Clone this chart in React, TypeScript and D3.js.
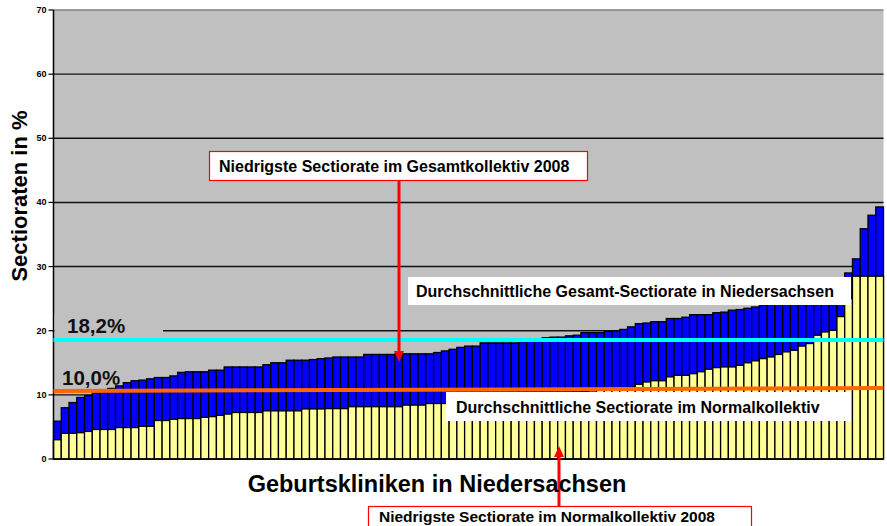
import React from 'react';
import * as d3 from 'd3';

// Sectiorate per Geburtsklinik (Gesamtkollektiv), aufsteigend sortiert
const gesamtRate = [
  5.9, 8.0, 8.8, 9.6, 9.9, 10.3, 10.7, 11.0, 11.4, 11.9,
  12.2, 12.3, 12.5, 12.7, 12.7, 12.95, 13.5, 13.6, 13.6, 13.6,
  13.85, 13.85, 14.35, 14.35, 14.35, 14.35, 14.35, 14.7, 15.0, 15.0,
  15.4, 15.4, 15.4, 15.5, 15.65, 15.75, 15.9, 15.9, 15.9, 15.9,
  16.3, 16.3, 16.3, 16.3, 16.4, 16.4, 16.4, 16.4, 16.4, 16.6,
  16.85, 17.1, 17.4, 17.6, 17.6, 18.1, 18.1, 18.1, 18.1, 18.1,
  18.3, 18.4, 18.5, 18.9, 19.0, 19.0, 19.2, 19.3, 19.7, 19.7,
  19.7, 19.9, 20.0, 20.2, 20.6, 21.1, 21.2, 21.4, 21.4, 21.9,
  21.9, 22.1, 22.5, 22.5, 22.5, 22.8, 22.9, 23.2, 23.3, 23.5,
  23.7, 24.0, 24.2, 24.4, 24.7, 25.0, 25.3, 25.7, 26.1, 26.6,
  27.2, 27.9, 29.0, 31.2, 35.9, 38.0, 39.3,
];

// Sectiorate im Normalkollektiv, gleiche Kliniken
const normalRate = [
  3.0, 4.0, 4.0, 4.1, 4.3, 4.6, 4.6, 4.6, 4.9, 4.9,
  4.9, 5.1, 5.1, 6.0, 6.0, 6.2, 6.3, 6.3, 6.3, 6.5,
  6.6, 6.8, 7.0, 7.25, 7.25, 7.25, 7.25, 7.5, 7.5, 7.5,
  7.5, 7.5, 7.8, 7.8, 7.8, 7.85, 7.85, 7.85, 8.15, 8.15,
  8.15, 8.15, 8.15, 8.15, 8.15, 8.4, 8.4, 8.4, 8.65, 8.65,
  8.65, 8.8, 8.9, 9.0, 9.1, 9.2, 9.3, 9.4, 9.5, 9.6,
  9.7, 9.8, 9.9, 10.0, 10.1, 10.2, 10.3, 10.4, 10.5, 10.6,
  10.7, 10.8, 10.9, 11.0, 11.2, 11.65, 12.0, 12.2, 12.2, 12.8,
  13.05, 13.05, 13.3, 13.6, 14.0, 14.25, 14.35, 14.35, 14.6, 15.0,
  15.3, 15.65, 15.9, 16.3, 16.7, 16.95, 17.6, 18.0, 19.3, 19.8,
  20.05, 22.2, 25.0, 28.5, 28.5, 28.5, 28.5,
];

const yTicks = [0, 10, 20, 30, 40, 50, 60, 70];

const gesamtMittel = 18.55; // cyan line
const normalMittel = [10.6, 11.05]; // orange line, left/right end

const font = '"Liberation Sans", Arial, sans-serif';

const width = 887;
const height = 526;
const left = 53.5;
const right = 883.5;
const top = 10;
const bottom = 459;

export default function App() {
  const clinics = d3.range(gesamtRate.length);
  const x = d3.scaleBand<number>().domain(clinics).range([left, right]).padding(0);
  const y = d3.scaleLinear().domain([0, 70]).range([bottom, top]);

  const arrowHead = (cx: number, tip: number, dir: number) =>
    `M${cx},${tip} L${cx - 5},${tip - dir * 11} L${cx + 5},${tip - dir * 11} Z`;

  return (
    <svg width={width} height={height} style={{ position: 'absolute', left: 0, top: 0, background: '#fff' }}>
      <rect x={left} y={top} width={right - left} height={bottom - top} fill="#c0c0c0" />
      {yTicks.filter(t => t > 0).map(t => (
        <line key={t} x1={left} x2={right} y1={y(t)} y2={y(t)}
          stroke={t === 70 ? '#808080' : '#111'} strokeWidth={1.4} />
      ))}

      {clinics.map(i => (
        <rect key={'g' + i} x={x(i)} y={y(gesamtRate[i])} width={x.bandwidth()}
          height={y(0) - y(gesamtRate[i])} fill="#0000ff" stroke="#000" strokeWidth={1.3} />
      ))}
      {clinics.map(i => (
        <rect key={'n' + i} x={x(i)} y={y(normalRate[i])} width={x.bandwidth()}
          height={y(0) - y(normalRate[i])} fill="#ffff99" stroke="#000" strokeWidth={1.3} />
      ))}

      <line x1={left} x2={left} y1={top} y2={bottom} stroke="#000" strokeWidth={1.5} />
      <line x1={left} x2={right} y1={bottom} y2={bottom} stroke="#000" strokeWidth={1.5} />
      {yTicks.map(t => (
        <g key={t}>
          <line x1={left - 5} x2={left} y1={y(t)} y2={y(t)} stroke="#000" strokeWidth={1.2} />
          <text x={left - 7} y={y(t) + 3} textAnchor="end" fontFamily={font} fontWeight="bold"
            fontSize={9} fill="#000">{t}</text>
        </g>
      ))}

      {/* label backgrounds and mean lines */}
      <rect x={left + 1} y={315} width={163 - left - 1} height={22} fill="#c0c0c0" />
      <text x={67} y={333} fontFamily={font} fontWeight="bold" fontSize={20.5} fill="#111">18,2%</text>
      <text x={62} y={385} fontFamily={font} fontWeight="bold" fontSize={20.5} fill="#111">10,0%</text>
      <line x1={left} x2={right} y1={y(gesamtMittel)} y2={y(gesamtMittel)} stroke="#00ffff" strokeWidth={4} />
      <line x1={left} x2={right} y1={y(normalMittel[0])} y2={y(normalMittel[1])} stroke="#ff6600" strokeWidth={4} />

      {/* annotations */}
      <rect x={408} y={277} width={443} height={28} fill="#fff" />
      <text x={416} y={297} fontFamily={font} fontWeight="bold" fontSize={16} fill="#000">
        Durchschnittliche Gesamt-Sectiorate in Niedersachsen
      </text>
      <rect x={446} y={392} width={405} height={29} fill="#fff" />
      <text x={456} y={413} fontFamily={font} fontWeight="bold" fontSize={16} fill="#000">
        Durchschnittliche Sectiorate im Normalkollektiv
      </text>

      <rect x={209.5} y={151.5} width={378} height={29} fill="#fff" stroke="#ff0000" strokeWidth={1.2} />
      <text x={219} y={172} fontFamily={font} fontWeight="bold" fontSize={16} fill="#000">
        Niedrigste Sectiorate im Gesamtkollektiv 2008
      </text>
      <line x1={399} x2={399} y1={181} y2={352} stroke="#ff0000" strokeWidth={3} />
      <path d={arrowHead(399, 362, 1)} fill="#ff0000" />

      <line x1={559} x2={559} y1={506} y2={456} stroke="#ff0000" strokeWidth={3} />
      <path d={arrowHead(559, 446, -1)} fill="#ff0000" />
      <rect x={368.5} y={506.5} width={383} height={25} fill="#fff" stroke="#ff0000" strokeWidth={1.2} />
      <text x={379} y={522} fontFamily={font} fontWeight="bold" fontSize={15.5} fill="#000">
        Niedrigste Sectiorate im Normalkollektiv 2008
      </text>

      <text x={437} y={492} textAnchor="middle" fontFamily={font} fontWeight="bold" fontSize={23.5} fill="#000">
        Geburtskliniken in Niedersachsen
      </text>
      <text transform="translate(27,196) rotate(-90)" textAnchor="middle" fontFamily={font}
        fontWeight="bold" fontSize={22} fill="#000">
        Sectioraten in %
      </text>
    </svg>
  );
}
